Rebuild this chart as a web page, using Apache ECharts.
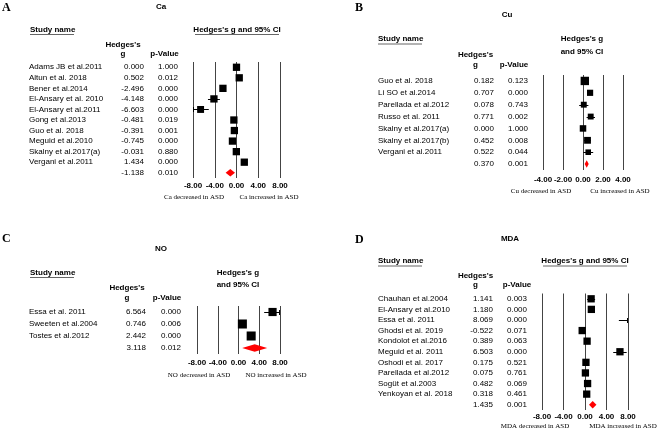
<!DOCTYPE html>
<html>
<head>
<meta charset="utf-8">
<script src="https://cdn.jsdelivr.net/npm/echarts@6/dist/echarts.min.js"></script>
<style>
html, body { margin: 0; padding: 0; background: #fff; }
#chart { width: 660px; height: 430px; }
</style>
</head>
<body>
<div id="chart"></div>
<script>
// A - Ca (last row = pooled estimate)
var caStudies = ['Adams JB et al.2011', 'Altun et al. 2018', 'Bener et al.2014', 'El-Ansary et al. 2010', 'El-Ansary et al.2011',
  'Gong et al.2013', 'Guo et al. 2018', 'Meguid et al.2010', 'Skalny et al.2017(a)', 'Vergani et al.2011', ''];
var caG = [0.000, 0.502, -2.496, -4.148, -6.603, -0.481, -0.391, -0.745, -0.031, 1.434, -1.138];
var caP = ['1.000', '0.012', '0.000', '0.000', '0.000', '0.019', '0.001', '0.000', '0.880', '0.000', '0.010'];
var caLow = [-0.50, 0.10, -3.00, -5.25, -8.10, -0.90, -0.63, -1.15, -0.40, 0.90, -2.00];
var caHigh = [0.50, 0.90, -2.00, -3.05, -5.10, -0.06, -0.15, -0.34, 0.34, 1.97, -0.27];
var caWeight = [1, 1, 1, 1, 0.95, 1, 1, 1, 1, 1, 0];

// B - Cu
var cuStudies = ['Guo et al. 2018', 'Li SO et al.2014', 'Parellada et al.2012', 'Russo et al. 2011', 'Skalny et al.2017(a)',
  'Skalny et al.2017(b)', 'Vergani et al.2011', ''];
var cuG = [0.182, 0.707, 0.078, 0.771, 0.000, 0.452, 0.522, 0.370];
var cuP = ['0.123', '0.000', '0.743', '0.002', '1.000', '0.008', '0.044', '0.001'];
var cuLow = [-0.05, 0.40, -0.38, 0.36, -0.30, 0.12, 0.03, 0.17];
var cuHigh = [0.41, 1.00, 0.54, 1.20, 0.30, 0.79, 1.02, 0.57];
var cuWeight = [1.35, 1.0, 0.95, 0.95, 1.05, 1.1, 0.9, 0];

// C - NO
var noStudies = ['Essa et al. 2011', 'Sweeten et al.2004', 'Tostes et al.2012', ''];
var noG = [6.564, 0.746, 2.442, 3.118];
var noP = ['0.000', '0.006', '0.000', '0.012'];
var noLow = [4.95, 0.20, 1.85, 0.71];
var noHigh = [8.18, 1.29, 3.03, 5.53];
var noWeight = [0.95, 1.05, 1.05, 0];

// D - MDA
var mdaStudies = ['Chauhan et al.2004', 'El-Ansary et al.2010', 'Essa et al. 2011', 'Ghodsi et al. 2019', 'Kondolot et al.2016',
  'Meguid et al. 2011', 'Oshodi et al. 2017', 'Parellada et al.2012', 'Sogüt et al.2003', 'Yenkoyan et al. 2018', ''];
var mdaG = [1.141, 1.180, 8.069, -0.522, 0.389, 6.503, 0.175, 0.075, 0.482, 0.318, 1.435];
var mdaP = ['0.003', '0.000', '0.000', '0.071', '0.063', '0.000', '0.521', '0.761', '0.069', '0.461', '0.001'];
var mdaLow = [0.40, 0.60, 6.30, -1.09, -0.03, 5.25, -0.36, -0.38, -0.04, -0.20, 0.74];
var mdaHigh = [1.88, 1.76, 9.84, 0.05, 0.81, 7.75, 0.71, 0.53, 1.00, 0.84, 2.13];
var mdaWeight = [1, 1, 1, 1, 1, 1, 1, 1, 1, 1, 0];

var SANS = '"Liberation Sans", Arial, sans-serif';
var SERIF = '"Liberation Serif", "Times New Roman", serif';

var panels = [
  { studies: caStudies, g: caG, p: caP, lo: caLow, hi: caHigh, w: caWeight, box: 7.3,
    grid: { left: 193, top: 62, width: 87, height: 116 }, min: -8, max: 8, step: 4,
    nameX: 29, gRight: 144, pRight: 178, labelMargin: 4 },
  { studies: cuStudies, g: cuG, p: cuP, lo: cuLow, hi: cuHigh, w: cuWeight, box: 6.2,
    grid: { left: 543, top: 75, width: 80, height: 95 }, min: -4, max: 4, step: 2,
    nameX: 378, gRight: 494, pRight: 528, labelMargin: 6 },
  { studies: noStudies, g: noG, p: noP, lo: noLow, hi: noHigh, w: noWeight, box: 8.6,
    grid: { left: 197, top: 306, width: 83, height: 48 }, min: -8, max: 8, step: 4,
    nameX: 29, gRight: 146, pRight: 181, labelMargin: 5 },
  { studies: mdaStudies, g: mdaG, p: mdaP, lo: mdaLow, hi: mdaHigh, w: mdaWeight, box: 7.3,
    grid: { left: 542, top: 293.5, width: 86, height: 116.5 }, min: -8, max: 8, step: 4,
    nameX: 378, gRight: 493, pRight: 527, labelMargin: 3 }
];

function renderForest(params, api) {
  var row = api.value(0);
  var g = api.value(1), lo = api.value(2), hi = api.value(3), w = api.value(4), box = api.value(5);
  var cs = params.coordSys;
  var c = api.coord([g, row]);
  var pl = api.coord([lo, row]);
  var ph = api.coord([hi, row]);
  var y = c[1];
  var kids = [];
  if (w === 0) {
    var dh = 3.8;
    kids.push({
      type: 'polygon',
      shape: { points: [[pl[0], y], [c[0], y - dh], [ph[0], y], [c[0], y + dh]] },
      style: { fill: '#ff0000' }
    });
    return { type: 'group', children: kids };
  }
  var left = cs.x, right = cs.x + cs.width;
  var x0 = Math.max(pl[0], left), x1 = Math.min(ph[0], right);
  var ly = Math.round(y) + 0.5;
  if (x1 > x0) {
    kids.push({ type: 'line', shape: { x1: x0, y1: ly, x2: x1, y2: ly }, style: { stroke: '#000', lineWidth: 1 } });
  }
  if (pl[0] < left) {
    kids.push({ type: 'line', shape: { x1: left + 0.5, y1: ly - 2.5, x2: left + 0.5, y2: ly + 2.5 }, style: { stroke: '#000', lineWidth: 1 } });
  }
  if (ph[0] > right) {
    kids.push({ type: 'line', shape: { x1: right - 0.5, y1: ly - 2.5, x2: right - 0.5, y2: ly + 2.5 }, style: { stroke: '#000', lineWidth: 1 } });
  }
  if (c[0] >= left && c[0] <= right) {
    var s = box * w;
    kids.push({ type: 'rect', shape: { x: c[0] - s / 2, y: y - s / 2, width: s, height: s }, style: { fill: '#000' } });
  }
  return { type: 'group', children: kids };
}

var grids = [], xAxes = [], yAxes = [], series = [];
panels.forEach(function (pn, k) {
  var gr = pn.grid;
  grids.push({ left: gr.left, top: gr.top, width: gr.width, height: gr.height, outerBoundsMode: 'none' });
  xAxes.push({
    gridIndex: k, type: 'value', min: pn.min, max: pn.max, interval: pn.step,
    axisLine: { show: false }, axisTick: { show: false },
    axisLabel: { margin: pn.labelMargin, fontSize: 8, fontWeight: 'bold', fontFamily: SANS, color: '#000',
      formatter: function (v) { return v.toFixed(2); } },
    splitLine: { show: true, lineStyle: { color: '#444', width: 1 } }
  });
  var base = { gridIndex: k, type: 'category', position: 'left', offset: 0, inverse: true, data: pn.studies,
    axisLine: { show: false }, axisTick: { show: false }, splitLine: { show: false } };
  var lab = { fontSize: 8, fontFamily: SANS, color: '#000', interval: 0 };
  // study names
  yAxes.push(Object.assign({}, base, {
    axisLabel: Object.assign({}, lab, { align: 'left', margin: gr.left - pn.nameX })
  }));
  // Hedges's g column
  yAxes.push(Object.assign({}, base, {
    axisLabel: Object.assign({}, lab, { align: 'right', margin: gr.left - pn.gRight,
      formatter: (function (arr) { return function (v, i) { return arr[i].toFixed(3); }; })(pn.g) })
  }));
  // p-value column
  yAxes.push(Object.assign({}, base, {
    axisLabel: Object.assign({}, lab, { align: 'right', margin: gr.left - pn.pRight,
      formatter: (function (arr) { return function (v, i) { return arr[i]; }; })(pn.p) })
  }));
  var rows = pn.studies.map(function (s, i) {
    return [i, pn.g[i], pn.lo[i], pn.hi[i], pn.w[i], pn.box];
  });
  series.push({
    type: 'custom', xAxisIndex: k, yAxisIndex: k * 3,
    renderItem: renderForest, data: rows,
    encode: { x: [1, 2, 3], y: 0 }, silent: true, animation: false
  });
});

function txt(x, y, s, opt) {
  opt = opt || {};
  return {
    type: 'text', silent: true,
    style: {
      x: x, y: y, text: s, fill: '#000',
      font: (opt.bold ? 'bold ' : '') + (opt.size || 8) + 'px ' + (opt.serif ? SERIF : SANS),
      textAlign: opt.align || 'center', textVerticalAlign: 'middle'
    }
  };
}
function uline(x1, x2, y) {
  return { type: 'line', silent: true, shape: { x1: x1, y1: y, x2: x2, y2: y }, style: { stroke: '#666', lineWidth: 1 } };
}

var graphics = [
  // A
  txt(2, 7.5, 'A', { bold: true, serif: true, size: 12, align: 'left' }),
  txt(161, 7, 'Ca', { bold: true }),
  txt(30, 29.5, 'Study name', { bold: true, align: 'left' }),
  uline(30, 74, 34.5),
  txt(237, 29.5, "Hedges's g and 95% CI", { bold: true }),
  uline(195, 279, 34.5),
  txt(123, 45, "Hedges's", { bold: true }),
  txt(123, 53.5, 'g', { bold: true }),
  txt(164.5, 53.5, 'p-Value', { bold: true }),
  txt(194, 197, 'Ca decreased in ASD', { serif: true, size: 7 }),
  txt(269, 197, 'Ca increased in ASD', { serif: true, size: 7 }),
  // B
  txt(355, 7.5, 'B', { bold: true, serif: true, size: 12, align: 'left' }),
  txt(507, 15, 'Cu', { bold: true }),
  txt(378, 39, 'Study name', { bold: true, align: 'left' }),
  uline(378, 422, 44),
  txt(582, 39, "Hedges's g", { bold: true }),
  txt(582, 51.5, 'and 95% CI', { bold: true }),
  txt(475.5, 55, "Hedges's", { bold: true }),
  txt(475.5, 65, 'g', { bold: true }),
  txt(514, 65, 'p-Value', { bold: true }),
  txt(541, 191, 'Cu decreased in ASD', { serif: true, size: 7 }),
  txt(620, 191, 'Cu increased in ASD', { serif: true, size: 7 }),
  // C
  txt(2, 238.5, 'C', { bold: true, serif: true, size: 12, align: 'left' }),
  txt(161, 249, 'NO', { bold: true }),
  txt(30, 272.5, 'Study name', { bold: true, align: 'left' }),
  uline(30, 74, 277.5),
  txt(238, 272.5, "Hedges's g", { bold: true }),
  txt(238, 285, 'and 95% CI', { bold: true }),
  txt(127, 288, "Hedges's", { bold: true }),
  txt(127, 297.5, 'g', { bold: true }),
  txt(167, 297.5, 'p-Value', { bold: true }),
  txt(199, 375.5, 'NO decreased in ASD', { serif: true, size: 7 }),
  txt(276, 375.5, 'NO increased in ASD', { serif: true, size: 7 }),
  // D
  txt(355, 239.5, 'D', { bold: true, serif: true, size: 12, align: 'left' }),
  txt(510, 239, 'MDA', { bold: true }),
  txt(378, 261, 'Study name', { bold: true, align: 'left' }),
  uline(378, 422, 266),
  txt(585, 261, "Hedges's g and 95% CI", { bold: true }),
  uline(543, 627, 266),
  txt(475.5, 276, "Hedges's", { bold: true }),
  txt(475.5, 285, 'g', { bold: true }),
  txt(517, 285, 'p-Value', { bold: true }),
  txt(535, 426, 'MDA decreased in ASD', { serif: true, size: 7 }),
  txt(623, 426, 'MDA increased in ASD', { serif: true, size: 7 })
];

var myChart = echarts.init(document.getElementById('chart'), null, { renderer: 'canvas' });
var option = {
  backgroundColor: '#fff',
  animation: false,
  grid: grids,
  xAxis: xAxes,
  yAxis: yAxes,
  series: series,
  graphic: graphics
};
myChart.setOption(option);
</script>
</body>
</html>
